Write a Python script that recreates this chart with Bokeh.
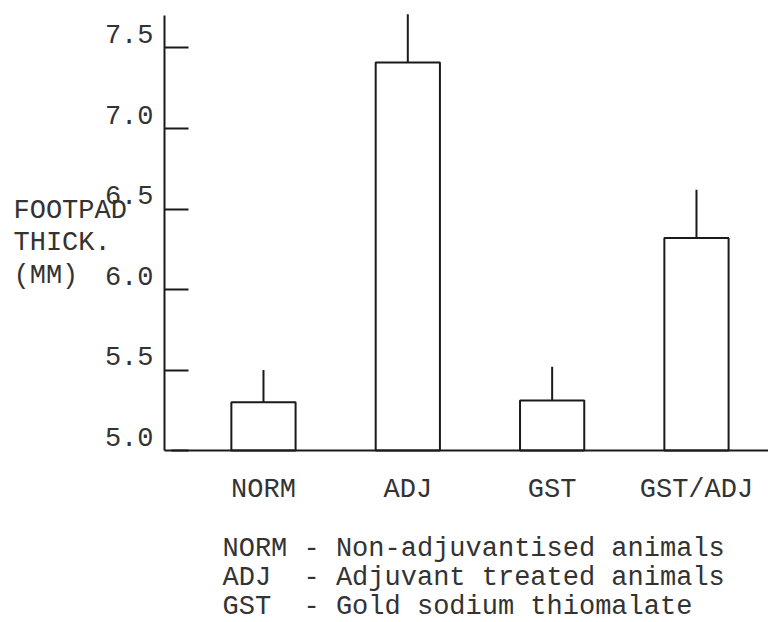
from bokeh.plotting import figure
from bokeh.models import Range1d, FixedTicker, Label, LabelSet, ColumnDataSource
from bokeh.core.properties import value
from bokeh.embed import file_html
from bokeh.resources import INLINE

# ---- data ----
categories = ["NORM", "ADJ", "GST", "GST/ADJ"]
means = [5.30, 7.41, 5.31, 6.32]
errors = [0.20, 0.30, 0.21, 0.30]
y_ticks = [5.0, 5.5, 6.0, 6.5, 7.0, 7.5]
y_tick_labels = ["5.0", "5.5", "6.0", "6.5", "7.0", "7.5"]
y_title = ["FOOTPAD", "THICK.", "(MM)"]
key_lines = ["NORM - Non-adjuvantised animals",
             "ADJ\u00a0 - Adjuvant treated animals",
             "GST\u00a0 - Gold sodium thiomalate"]

# ---- style ----
W, H = 768, 622
FONT = "Liberation Mono"
FS = "27px"
TXT = "#333333"
INK = "#1a1a1a"
AXIS_X = -0.686          # where the value axis stands (in category-index units)
BASE = 5.0               # value at which the baseline is drawn

idx = list(range(len(categories)))
err_top = [m + e for m, e in zip(means, errors)]

p = figure(width=W, height=H, output_backend="svg", toolbar_location=None,
           x_range=Range1d(-1.822, 3.499), y_range=Range1d(3.932, 7.795),
           frame_width=W, frame_height=H,
           min_border=0)
p.outline_line_color = None
p.grid.visible = False
p.background_fill_color = "white"
p.border_fill_color = "white"

src = ColumnDataSource(dict(x=idx, top=means, etop=err_top))
p.vbar(x="x", top="top", bottom=BASE, width=0.445, source=src,
       fill_alpha=0, line_color=INK, line_width=2)
p.segment(x0="x", y0="top", x1="x", y1="etop", source=src,
          line_color=INK, line_width=2)

# y axis: line + inward ticks; labels drawn as a LabelSet sitting above each tick
ya = p.yaxis[0]
ya.fixed_location = AXIS_X
ya.ticker = FixedTicker(ticks=y_ticks)
ya.major_label_overrides = {t: "" for t in y_ticks}
ya.major_tick_in = 24
ya.major_tick_out = 0
ya.minor_tick_in = 0
ya.minor_tick_out = 0
ya.major_tick_line_width = 2
ya.major_tick_line_color = INK
ya.axis_line_width = 2
ya.axis_line_color = INK
ya.major_label_standoff = 0
ya.bounds = (BASE, 7.70)

lab_src = ColumnDataSource(dict(y=y_ticks, text=y_tick_labels))
p.add_layout(LabelSet(x=153, y="y", text="text", source=lab_src,
                      x_units="screen", y_units="data", y_offset=14,
                      text_align="right", text_baseline="middle",
                      text_font=value(FONT), text_font_size=value(FS),
                      text_color=TXT))

# x axis: baseline with category labels
xa = p.xaxis[0]
xa.fixed_location = BASE
xa.ticker = FixedTicker(ticks=idx)
xa.major_label_overrides = {i: c for i, c in zip(idx, categories)}
xa.major_tick_in = 0
xa.major_tick_out = 0
xa.minor_tick_in = 0
xa.minor_tick_out = 0
xa.axis_line_width = 2
xa.axis_line_color = INK
xa.bounds = (AXIS_X + 0.05, 3.499)
xa.major_label_standoff = 24
xa.major_label_text_font = FONT
xa.major_label_text_font_size = FS
xa.major_label_text_color = TXT

def add_text(t, px, py):
    """Place a label by page pixel position (left edge, vertical middle)."""
    p.add_layout(Label(x=px, y=H - py, x_units="screen", y_units="screen",
                       text=t, text_align="left", text_baseline="middle",
                       text_font=FONT, text_font_size=FS, text_color=TXT))

# y title (typed block at left)
for i, t in enumerate(y_title):
    add_text(t, 13, 210 + 32.5 * i)

# key below the chart
for i, t in enumerate(key_lines):
    add_text(t, 222, 548 + 29 * i)

open("out.html", "w").write(file_html(p, INLINE))
